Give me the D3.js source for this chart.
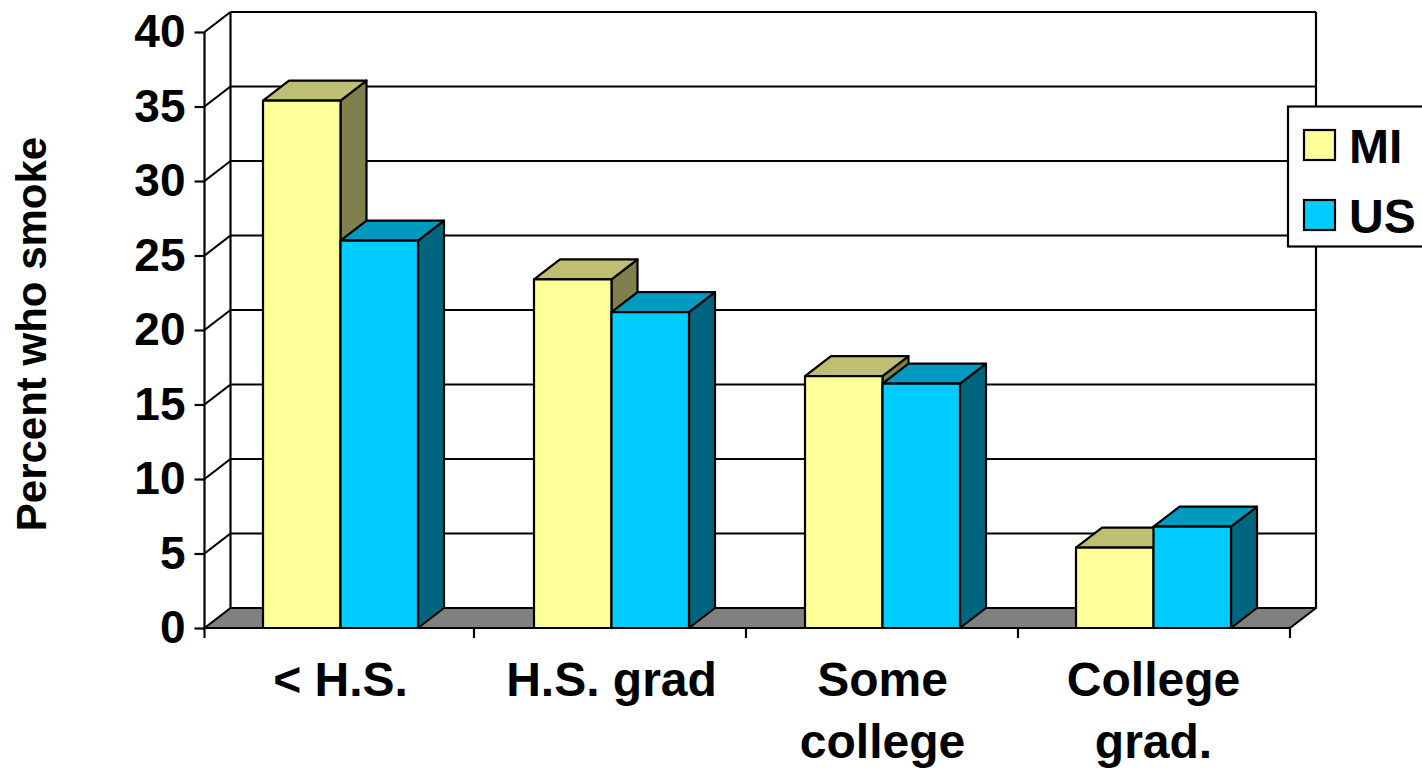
<!DOCTYPE html>
<html><head><meta charset="utf-8">
<script src="https://cdnjs.cloudflare.com/ajax/libs/d3/7.8.5/d3.min.js"></script>
<style>html,body{margin:0;padding:0;background:#fff;overflow:hidden}svg{display:block}
text{font-family:"Liberation Sans",Arial,sans-serif;font-weight:700;fill:#000}</style>
</head><body><svg id="c" width="1422" height="768"></svg>
<script>
const categories = [["< H.S."],["H.S. grad"],["Some","college"],["College","grad."]];
const seriesNames = ["MI","US"];
const miValues = [35.4,23.4,16.9,5.4];
const usValues = [26.0,21.2,16.4,6.8];
const yTicks = [0,5,10,15,20,25,30,35,40];
const faceColors = {MI:"#FFFF99",US:"#00CCFF"};
const topColors = {MI:"#BFBF73",US:"#0099BF"};
const sideColors = {MI:"#80804D",US:"#006680"};

const svg = d3.select("#c");
const dx = 26, dy = -20, lw = 2.2;
const x0 = 204.5, x1 = 1290, yBase = 628, yTop = 32;
const catKeys = categories.map(c => c.join(" "));
const x = d3.scaleBand().domain(catKeys).range([205,1289]);
const tickX = d3.scaleBand().domain(catKeys).range([202,1290]);
const y = d3.scaleLinear().domain([0,40]).range([yBase,yTop]);
const barW = 77.5, barOff = 58;
const line = d3.line();

// walls, gridlines
const g = svg.append("g").attr("fill","none").attr("stroke","#000").attr("stroke-width",lw);
g.selectAll("line.grid").data(yTicks.slice(1)).join("line")
  .attr("x1",x0).attr("y1",d=>y(d)).attr("x2",x0+dx).attr("y2",d=>y(d)+dy);
g.selectAll("line.back").data(yTicks.slice(1)).join("line")
  .attr("x1",x0+dx).attr("y1",d=>y(d)+dy).attr("x2",x1+dx).attr("y2",d=>y(d)+dy);
g.append("line").attr("x1",x0+dx).attr("y1",y(40)+dy).attr("x2",x0+dx).attr("y2",y(0)+dy);
g.append("line").attr("x1",x1+dx).attr("y1",y(40)+dy).attr("x2",x1+dx).attr("y2",y(0)+dy);
// floor
g.append("path").attr("fill","#808080").attr("stroke-linejoin","round")
  .attr("d",line([[x0,yBase],[x0+dx,yBase+dy],[x1+dx,yBase+dy],[x1,yBase]])+"Z");

// axes
const yAxis = d3.axisLeft(y).tickValues(yTicks).tickSizeOuter(0).tickSize(10).tickPadding(9);
const ya = svg.append("g").attr("transform",`translate(${x0},0)`).call(yAxis);
ya.selectAll("path,line").attr("stroke","#000").attr("stroke-width",lw);
ya.selectAll("path").attr("d",`M0,${yTop}V${yBase}`);
ya.selectAll("text").attr("font-size",46).style("font-family",'"Liberation Sans",Arial,sans-serif').style("font-weight",700).attr("fill","#000");

const xg = svg.append("g");
xg.append("line").attr("x1",x0).attr("x2",x1).attr("y1",yBase).attr("y2",yBase).attr("stroke","#000").attr("stroke-width",lw);
const bounds = catKeys.map((k,i)=>i===0?x0:tickX(k)).concat([x1]);
xg.selectAll("line.t").data(bounds).join("line").attr("class","t")
  .attr("x1",d=>d).attr("x2",d=>d).attr("y1",yBase).attr("y2",yBase+10).attr("stroke","#000").attr("stroke-width",lw);

// bars
const bars = [];
catKeys.forEach((k,i)=>{
  bars.push({s:"MI",v:miValues[i],l:x(k)+barOff});
  bars.push({s:"US",v:usValues[i],l:x(k)+barOff+barW});
});
const bg = svg.append("g").attr("stroke","#000").attr("stroke-width",lw).attr("stroke-linejoin","round");
bars.forEach(b=>{
  const l=b.l, r=b.l+barW, t=y(b.v), bt=y(0);
  const one = bg.append("g");
  one.append("path").attr("fill",sideColors[b.s]).attr("d",line([[r,t],[r+dx,t+dy],[r+dx,bt+dy],[r,bt]])+"Z");
  one.append("path").attr("fill",topColors[b.s]).attr("d",line([[l,t],[l+dx,t+dy],[r+dx,t+dy],[r,t]])+"Z");
  one.append("rect").attr("x",l).attr("y",t).attr("width",barW).attr("height",bt-t).attr("fill",faceColors[b.s]);
});

// category labels
categories.forEach((c,i)=>{
  const k=catKeys[i], cx = x(k)+x.bandwidth()/2;
  c.forEach((t,j)=>svg.append("text").attr("x",cx).attr("y",696+j*62).attr("text-anchor","middle").attr("font-size",48).text(t));
});

// y title
svg.append("text").attr("transform","translate(46,334) rotate(-90)").attr("text-anchor","middle").attr("font-size",42).text("Percent who smoke");

// legend
const lg = svg.append("g");
lg.append("rect").attr("x",1288).attr("y",106.5).attr("width",160).attr("height",140).attr("fill","#fff").attr("stroke","#000").attr("stroke-width",lw);
seriesNames.forEach((s,i)=>{
  const ly = 130+i*70;
  lg.append("rect").attr("x",1304).attr("y",ly).attr("width",31).attr("height",30).attr("fill",faceColors[s]).attr("stroke","#000").attr("stroke-width",lw);
  lg.append("text").attr("x",1349).attr("y",ly+33).attr("font-size",48).text(s);
});
</script></body></html>
